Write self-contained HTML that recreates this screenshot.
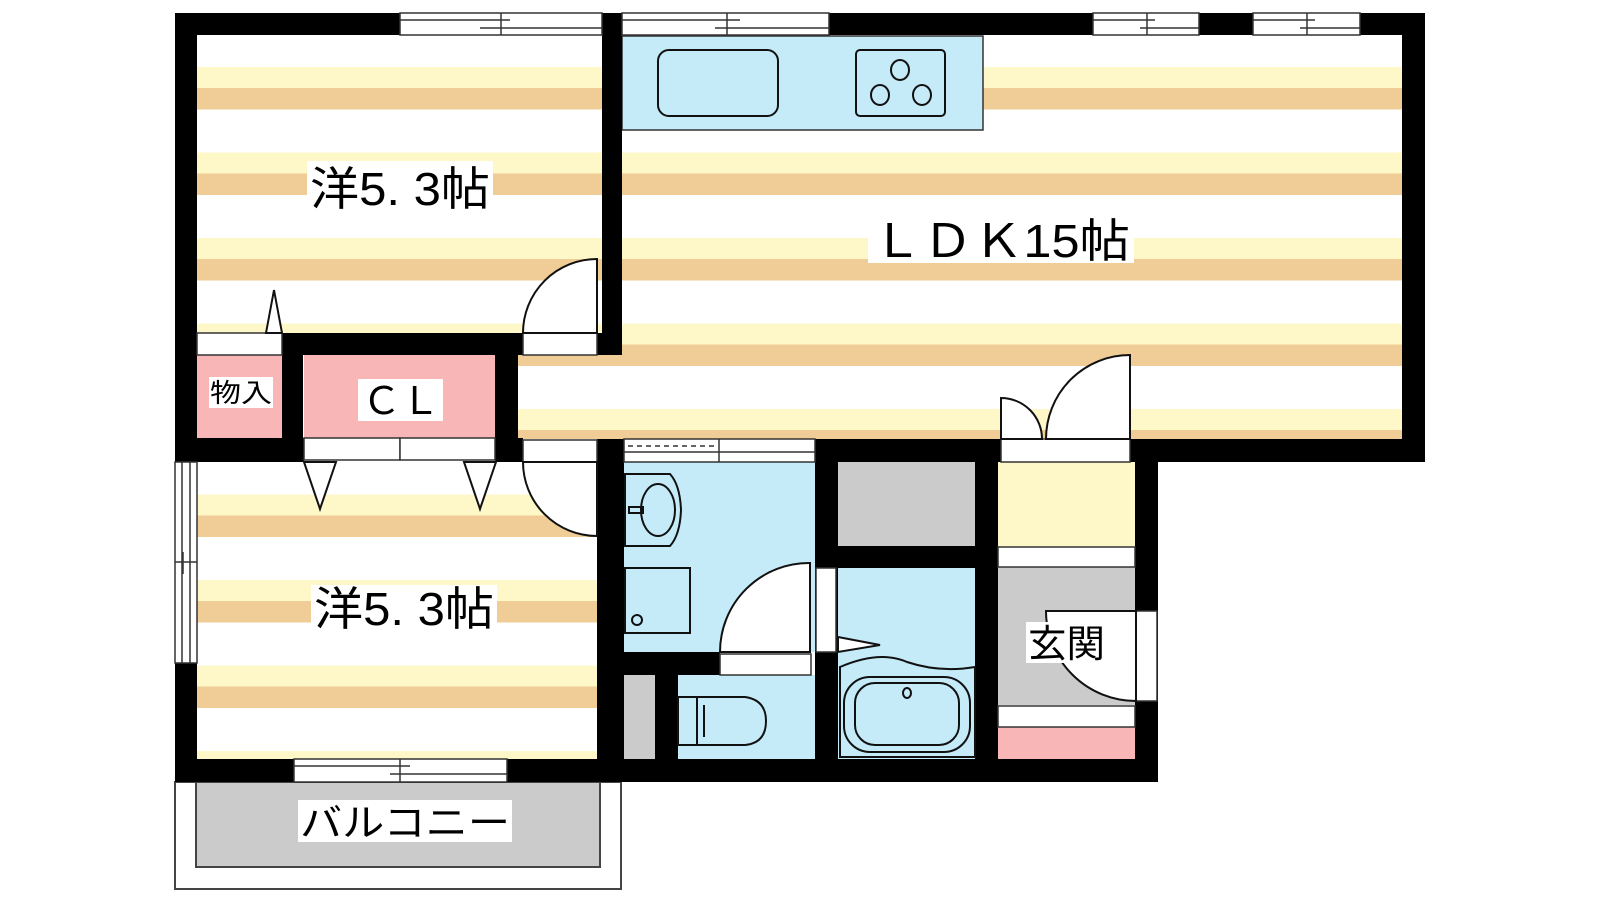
<!DOCTYPE html>
<html><head><meta charset="utf-8"><style>
html,body{margin:0;padding:0;background:#fff;}
svg{display:block;}
text{font-family:"Liberation Sans","Noto Sans CJK JP",sans-serif;fill:#000;}
</style></head><body>
<svg width="1600" height="900" viewBox="0 0 1600 900" xmlns="http://www.w3.org/2000/svg">
<defs>
<pattern id="st" patternUnits="userSpaceOnUse" x="0" y="67" width="1600" height="85.5">
<rect x="0" y="0" width="1600" height="85.5" fill="#fff"/>
<rect x="0" y="0" width="1600" height="21" fill="#fef8c9"/>
<rect x="0" y="21" width="1600" height="21.5" fill="#f0cd97"/>
</pattern>
</defs>
<g stroke="none">
<rect x="197" y="35" width="405" height="298" fill="url(#st)"/>
<rect x="620" y="35" width="782" height="404" fill="url(#st)"/>
<rect x="518" y="355" width="104" height="84" fill="url(#st)"/>
<rect x="197" y="462" width="405" height="297" fill="url(#st)"/>
<rect x="197" y="355" width="85" height="83" fill="#f8b6b6"/>
<rect x="304" y="355" width="191" height="83" fill="#f8b6b6"/>
<rect x="624" y="462" width="191" height="190" fill="#c5eaf8"/>
<rect x="838" y="462" width="137" height="84" fill="#cbcbcb"/>
<rect x="838" y="568" width="137" height="191" fill="#c5eaf8"/>
<rect x="624" y="675" width="31" height="84" fill="#cbcbcb"/>
<rect x="678" y="675" width="137" height="84" fill="#c5eaf8"/>
<rect x="998" y="462" width="137" height="85" fill="#fef8c9"/>
<rect x="998" y="567" width="137" height="138" fill="#cbcbcb"/>
<rect x="998" y="727" width="137" height="32" fill="#f8b6b6"/>
<rect x="175" y="782" width="446" height="107" fill="#fff" stroke="#444" stroke-width="2"/>
<rect x="196" y="782" width="404" height="85" fill="#cbcbcb" stroke="#444" stroke-width="2"/>
</g>
<rect x="622" y="36" width="361" height="94" fill="#c5eaf8" stroke="#333" stroke-width="1.5"/>
<rect x="658" y="50" width="120" height="66" rx="11" fill="none" stroke="#111" stroke-width="2"/>
<rect x="856" y="50" width="89" height="66" rx="4" fill="none" stroke="#111" stroke-width="2"/>
<g fill="none" stroke="#111" stroke-width="2">
<ellipse cx="900" cy="70" rx="9" ry="10"/><ellipse cx="880" cy="95" rx="9" ry="10"/><ellipse cx="922" cy="95" rx="9" ry="10"/>
</g>
<g fill="#000">
<rect x="175" y="13" width="1250" height="22"/>
<rect x="175" y="13" width="22" height="449"/>
<rect x="1402" y="13" width="23" height="449"/>
<rect x="602" y="13" width="20" height="342"/>
<rect x="282" y="333" width="338" height="22"/>
<rect x="282" y="333" width="21" height="129"/>
<rect x="495" y="355" width="23" height="107"/>
<rect x="175" y="438" width="129" height="24"/>
<rect x="495" y="438" width="28" height="24"/>
<rect x="597" y="439" width="27" height="343"/>
<rect x="597" y="439" width="828" height="23"/>
<rect x="815" y="439" width="23" height="343"/>
<rect x="975" y="439" width="23" height="343"/>
<rect x="1135" y="439" width="23" height="343"/>
<rect x="838" y="546" width="137" height="22"/>
<rect x="624" y="652" width="96" height="23"/>
<rect x="655" y="675" width="23" height="84"/>
<rect x="175" y="663" width="22" height="119"/>
<rect x="175" y="759" width="983" height="23"/>
</g>
<g fill="#fff" stroke="#333" stroke-width="1.5">
<rect x="400" y="13" width="202" height="22"/><rect x="622" y="13" width="207" height="22"/>
<rect x="1093" y="13" width="106" height="22"/><rect x="1253" y="13" width="107" height="22"/>
<rect x="294" y="759" width="213" height="23"/>
<rect x="175" y="462" width="22" height="201"/>
<rect x="624" y="439" width="191" height="23"/>
<rect x="197" y="333" width="85" height="22"/>
<rect x="523" y="333" width="74" height="22"/>
<rect x="304" y="438" width="96" height="22"/><rect x="400" y="438" width="95" height="22"/>
<rect x="523" y="440" width="74" height="22"/>
<rect x="1001" y="439" width="129" height="23"/>
<rect x="998" y="547" width="137" height="20"/>
<rect x="998" y="706" width="137" height="21"/>
<rect x="720" y="654" width="91" height="21"/>
<rect x="816" y="568" width="20" height="84"/>
<rect x="1135" y="611" width="22" height="90"/>
</g>
<g stroke="#333" stroke-width="1.5" fill="none">
<path d="M400 20H510M480 28H602M501 13V35"/>
<path d="M622 20H740M715 28H829M727 13V35"/>
<path d="M1093 20H1155M1140 28H1199M1147 13V35"/>
<path d="M1253 20H1315M1300 28H1360M1307 13V35"/>
<path d="M294 766H410M390 774H507M400 759V782"/>
<path d="M182 462V663M190 462V663M175 562H197M183 552V574"/>
<path d="M624 452H815M719 439V462"/>
<path d="M628 446H716" stroke-dasharray="5 4"/>
</g>
<g fill="#fff" stroke="#111" stroke-width="2">
<path d="M597 259V333H523A74 74 0 0 1 597 259Z"/>
<path d="M597 462V536A74 74 0 0 1 523 462Z"/>
<path d="M1130 439V355A84 84 0 0 0 1046 439Z"/>
<path d="M1001 439V398A41 41 0 0 1 1042 439Z"/>
<path d="M810 652V563A89 89 0 0 0 720 652Z"/>
<path d="M1136 611H1046A90 90 0 0 0 1136 701Z"/>
<path d="M266 333L274 290L282 333Z"/>
<path d="M304 462L320 509L336 462Z"/>
<path d="M464 462L480 509L496 462Z"/>
<path d="M838 637L880 645L838 652Z"/>
</g>
<g fill="none" stroke="#111" stroke-width="2">
<path d="M625 474H670Q680 485 681 510Q680 535 670 546H625Z"/>
<ellipse cx="658" cy="510" rx="17" ry="26"/>
<rect x="629" y="507" width="14" height="6"/>
<rect x="625" y="568" width="65" height="65"/>
<circle cx="637" cy="620" r="5"/>
<rect x="678" y="697" width="19" height="48"/>
<path d="M697 697H745Q766 700 766 721Q766 743 745 745H697Z"/>
<path d="M704 705V737"/>
<path d="M840 667Q880 650 907 662Q940 673 975 667V757H840Z"/>
<rect x="844" y="677" width="126" height="75" rx="26"/>
<rect x="855" y="683" width="104" height="62" rx="20"/>
<ellipse cx="907" cy="693" rx="4" ry="5"/>
</g>
<g fill="#fff">
<rect x="307" y="161" width="186" height="49"/>
<rect x="868" y="216" width="266" height="47"/>
<rect x="209" y="377" width="64" height="31"/>
<rect x="358" y="379" width="85" height="42"/>
<rect x="311" y="585" width="186" height="45"/>
<rect x="1026" y="622" width="81" height="41"/>
<rect x="298" y="800" width="214" height="42"/>
</g>
<text x="310" y="205" font-size="46" textLength="180" lengthAdjust="spacingAndGlyphs">洋5. 3帖</text>
<text x="872" y="257" font-size="46" textLength="258" lengthAdjust="spacingAndGlyphs">ＬＤＫ15帖</text>
<text x="210" y="402" font-size="26" textLength="62" lengthAdjust="spacingAndGlyphs">物入</text>
<text x="362" y="414" font-size="38" textLength="78" lengthAdjust="spacingAndGlyphs">ＣＬ</text>
<text x="314" y="625" font-size="46" textLength="180" lengthAdjust="spacingAndGlyphs">洋5. 3帖</text>
<text x="1028" y="657" font-size="38" textLength="77" lengthAdjust="spacingAndGlyphs">玄関</text>
<text x="300" y="836" font-size="38" textLength="210" lengthAdjust="spacingAndGlyphs">バルコニー</text>
</svg>
</body></html>
